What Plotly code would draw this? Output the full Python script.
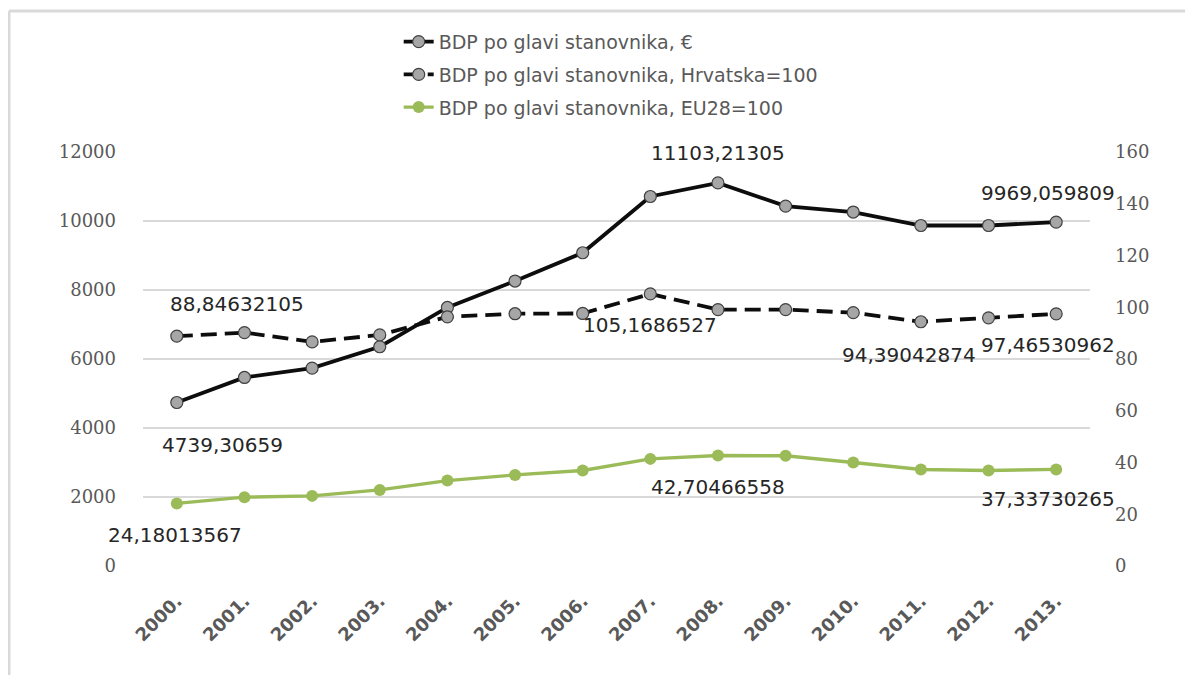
import plotly.graph_objects as go

# categories and series
years = ["2000.", "2001.", "2002.", "2003.", "2004.", "2005.", "2006.",
         "2007.", "2008.", "2009.", "2010.", "2011.", "2012.", "2013."]
bdp_eur = [4739.30659, 5465, 5737, 6355, 7494, 8260, 9080,
           10710, 11103.21305, 10430, 10260, 9870, 9870, 9969.059809]
bdp_hr = [88.84632105, 90.2, 86.6, 89.3, 96.3, 97.5, 97.6,
          105.1686527, 99.1, 99.1, 97.9, 94.39042874, 95.9, 97.46530962]
bdp_eu = [24.18013567, 26.6, 27.1, 29.4, 33.0, 35.2, 36.9,
          41.4, 42.70466558, 42.6, 40.0, 37.3, 36.9, 37.33730265]

names = ["BDP po glavi stanovnika, €",
         "BDP po glavi stanovnika, Hrvatska=100",
         "BDP po glavi stanovnika, EU28=100"]

# which points carry a data label
eur_labels = [0, 8, 13]
hr_labels = [0, 7, 11, 13]
eu_labels = [0, 8, 13]

GRID = "#d9d9d9"
TXT = "#595959"
LBL = "#262626"
GREEN = "#9bbb59"

fig = go.Figure()

fig.add_trace(go.Scatter(
    x=years, y=bdp_eur, name=names[0], mode="lines+markers",
    line=dict(color="#0d0d0d", width=3.8),
    marker=dict(size=12, color="#a6a6a6", line=dict(color="#404040", width=1.2)),
    legendgroup="a", yaxis="y"
))
fig.add_trace(go.Scatter(
    x=years, y=bdp_hr, name=names[1], mode="lines+markers",
    line=dict(color="#0d0d0d", width=3.8, dash="16px,8px"),
    marker=dict(size=12, color="#a6a6a6", line=dict(color="#404040", width=1.2)),
    legendgroup="b", yaxis="y2"
))
fig.add_trace(go.Scatter(
    x=years, y=bdp_eu, name=names[2], mode="lines+markers",
    line=dict(color=GREEN, width=3.4),
    marker=dict(size=12, color=GREEN),
    legendgroup="c", yaxis="y2"
))


def fmt(v):
    return str(v).replace(".", ",")


labels = []


def add_labels(values, idxs, yref, shifts):
    # x is the category index, so the label sits on the axis position
    for i, (dx, dy) in zip(idxs, shifts):
        labels.append(dict(
            x=i, y=values[i], xref="x", yref=yref,
            text=fmt(values[i]), showarrow=False,
            xshift=dx, yshift=dy,
            font=dict(family="DejaVu Sans", size=20, color=LBL)
        ))


# last-year labels nudged left a little so they clear the right axis numbers
add_labels(bdp_eur, eur_labels, "y", [(46, -43), (0, 30), (-8, 29)])
add_labels(bdp_hr, hr_labels, "y2", [(60, 32), (0, -31), (-12, -33), (-8, -31)])
add_labels(bdp_eu, eu_labels, "y2", [(-2, -32), (0, -31), (-8, -30)])

# chart border (left and top edges only)
border = [
    dict(type="line", xref="paper", yref="paper",
         x0=-0.1415, x1=-0.1415, y0=-0.27, y1=1.3406,
         line=dict(color=GRID, width=3)),
    dict(type="line", xref="paper", yref="paper",
         x0=-0.1415, x1=1.12, y0=1.3406, y1=1.3406,
         line=dict(color=GRID, width=3)),
]

# page body has an 8px margin, so the figure is a bit smaller than the window
fig.update_layout(
    width=1185, height=667,
    paper_bgcolor="white", plot_bgcolor="white",
    margin=dict(l=135, r=103, t=144, b=109),
    annotations=labels,
    shapes=border,
    showlegend=True,
    legend=dict(
        x=0.27, xanchor="left", y=1.312, yanchor="top",
        traceorder="grouped", tracegroupgap=5,
        bgcolor="rgba(0,0,0,0)",
        font=dict(family="DejaVu Sans", size=19, color=TXT)
    ),
    xaxis=dict(
        type="category", range=[-0.5, 13.5],
        showgrid=False, showline=False, ticks="",
        tickangle=-45, ticklabelstandoff=20,
        tickfont=dict(family="DejaVu Sans", size=18, color=TXT, weight="bold")
    ),
    yaxis=dict(
        range=[0, 12000], dtick=2000, tickformat="d", showgrid=True,
        gridcolor=GRID, gridwidth=1.5, zeroline=False, showline=False,
        ticks="", ticklabelstandoff=26,
        tickfont=dict(family="DejaVu Serif", size=18, color=TXT)
    ),
    yaxis2=dict(
        range=[0, 160], dtick=20, overlaying="y", side="right",
        showgrid=False, zeroline=False, showline=False,
        ticks="", ticklabelstandoff=24,
        tickfont=dict(family="DejaVu Serif", size=18, color=TXT)
    ),
)

fig.write_html("out.html")
